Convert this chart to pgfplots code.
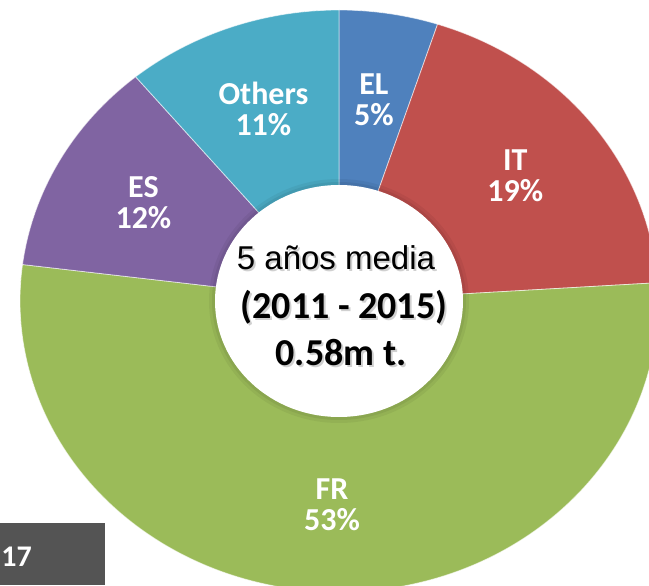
\documentclass[border=0pt]{standalone}
\usepackage{pgfplots}
\pgfplotsset{compat=1.18}
\usepackage{pgfplotstable}
\usepackage{fontspec}
\setmainfont{Carlito}
\newfontfamily\arialf{Liberation Sans}
\definecolor{elc}{HTML}{4F81BD}
\definecolor{itc}{HTML}{C0504D}
\definecolor{frc}{HTML}{9BBB59}
\definecolor{esc}{HTML}{8064A2}
\definecolor{otc}{HTML}{4BACC6}
\definecolor{boxc}{HTML}{545454}

\pgfplotstableread{
name value color
EL 5 elc
IT 19 itc
FR 53 frc
ES 12 esc
Others 11 otc
}\datatable

\gdef\angstart{90}
\foreach \i in {0,...,4}{%
  \pgfplotstablegetelem{\i}{value}\of\datatable
  \expandafter\xdef\csname v\i\endcsname{\pgfplotsretval}%
  \pgfmathsetmacro\endang{\angstart-3.6*\pgfplotsretval}%
  \pgfmathsetmacro\midang{(\angstart+\endang)/2}%
  \expandafter\xdef\csname s\i\endcsname{\angstart}%
  \expandafter\xdef\csname e\i\endcsname{\endang}%
  \expandafter\xdef\csname m\i\endcsname{\midang}%
  \pgfplotstablegetelem{\i}{color}\of\datatable
  \expandafter\xdef\csname c\i\endcsname{\pgfplotsretval}%
  \pgfplotstablegetelem{\i}{name}\of\datatable
  \expandafter\xdef\csname n\i\endcsname{\pgfplotsretval}%
  \xdef\angstart{\endang}%
}

\begin{document}
\begin{tikzpicture}
\begin{axis}[
  x=0.5pt, y=0.5pt,
  xmin=0, xmax=649, ymin=0, ymax=585,
  hide axis, clip=true,
  at={(0,0)}, anchor=origin,
]
\pgfplotsinvokeforeach{0,...,4}{
  \fill[fill=\csname c#1\endcsname, draw=white, draw opacity=0.6, line width=0.4pt]
    (axis cs:339,284) -- ++(\csname s#1\endcsname:159.5pt and 145.5pt)
    arc[start angle=\csname s#1\endcsname, end angle=\csname e#1\endcsname, x radius=159.5pt, y radius=145.5pt] -- cycle;
}
% hole with soft edge
\fill[black, opacity=0.05] (axis cs:339,284) ellipse[x radius=65pt, y radius=61pt];
\fill[black, opacity=0.06] (axis cs:339,284) ellipse[x radius=63.5pt, y radius=59.5pt];
\fill[white] (axis cs:339,284) ellipse[x radius=62pt, y radius=58pt];
% slice labels
\pgfplotsinvokeforeach{0,...,4}{
  \path (axis cs:339,284) ++(\csname m#1\endcsname:111.6pt and 101.9pt)
    node[text=white, font=\bfseries\fontsize{16}{15.5}\selectfont, align=center]
    {\csname n#1\endcsname\\\csname v#1\endcsname\%};
}
% centre text
\node[font=\arialf\fontsize{16.5}{16.5}\selectfont, text=black!30, opacity=0.6] at (axis cs:338,325) {5 años media};
\node[font=\arialf\fontsize{16.5}{16.5}\selectfont] at (axis cs:336,327) {5 años media};
\node[font=\bfseries\fontsize{19}{19}\selectfont, text=black!30, opacity=0.6] at (axis cs:346,276) {(2011 - 2015)};
\node[font=\bfseries\fontsize{19}{19}\selectfont] at (axis cs:344,278) {(2011 - 2015)};
\node[font=\bfseries\fontsize{19}{19}\selectfont, text=black!30, opacity=0.6] at (axis cs:343,230) {0.58m t.};
\node[font=\bfseries\fontsize{19}{19}\selectfont] at (axis cs:341,232) {0.58m t.};
% corner box
\fill[boxc] (axis cs:0,0) rectangle (axis cs:105,62);
\node[text=white, font=\bfseries\fontsize{15}{15}\selectfont, anchor=west, inner sep=0pt] at (axis cs:1,28) {17};
\end{axis}
\pgfresetboundingbox
\path[use as bounding box] (0,0) rectangle (324.5pt,292.5pt);
\end{tikzpicture}
\end{document}
